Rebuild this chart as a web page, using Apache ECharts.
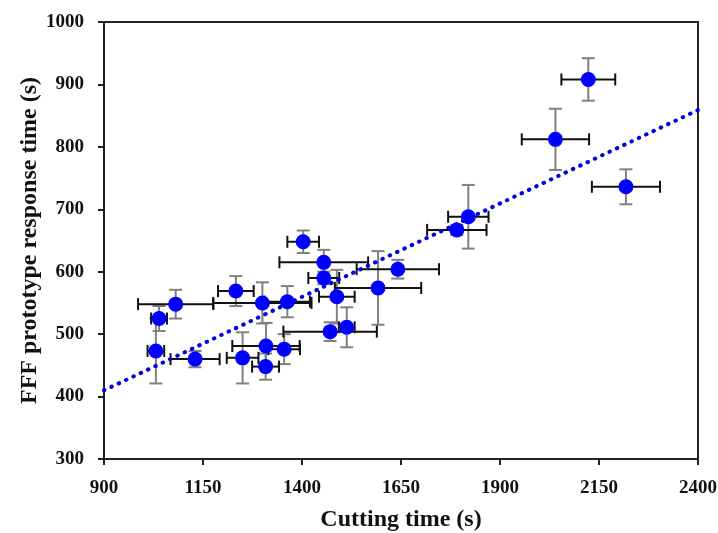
<!DOCTYPE html>
<html>
<head>
<meta charset="utf-8">
<script src="https://cdn.jsdelivr.net/npm/echarts@6/dist/echarts.min.js"></script>
<style>
  html,body{margin:0;padding:0;background:#fff;}
  #chart{width:718px;height:533px;}
</style>
</head>
<body>
<div id="chart"></div>
<script>
// data
var cuttingTime  = [2123, 2040, 2218, 1820, 1791, 1403, 1455, 1455, 1488, 1592, 1642, 1471, 1513, 1233, 1300, 1363, 1081, 1039, 1031, 1130, 1250, 1309, 1355, 1308];
var responseTime = [ 908,  812,  736,  688,  667,  648,  615,  590,  560,  574,  604,  504,  511,  569,  550,  552,  548,  525,  473,  460,  462,  481,  476,  448];
var cuttingErr   = [  68,   85,   86,   51,   75,   40,  112,   39,   45,  109,  104,  118,   20,   45,  124,   57,   95,   20,   21,   62,   40,   85,   40,   34];
var responseErr  = [  34,   49,   28,   51,    8,   18,   20,   10,   43,   59,   15,   15,   32,   24,   33,   25,   23,   20,   52,   13,   41,   37,   24,   21];
// linear trend line, ends read at both edges of the plot
var trendX = [900, 2400];
var trendY = [410, 859];

var xTicks = [900, 1150, 1400, 1650, 1900, 2150, 2400];
var yTicks = [300, 400, 500, 600, 700, 800, 900, 1000];

var FONT = 'Liberation Serif';
var myChart = echarts.init(document.getElementById('chart'));

var pts = [], barData = [];
for (var i = 0; i < cuttingTime.length; i++) {
    pts.push([cuttingTime[i], responseTime[i]]);
    barData.push([cuttingTime[i], responseTime[i], cuttingErr[i], responseErr[i]]);
}
var trend = [];
for (var i = 0; i < trendX.length; i++) trend.push([trendX[i], trendY[i]]);

function line(x1, y1, x2, y2, color, w) {
    return {type: 'line', shape: {x1: x1, y1: y1, x2: x2, y2: y2}, style: {stroke: color, lineWidth: w}};
}

// vertical error bars (grey)
function yBar(params, api) {
    var x = api.value(0), y = api.value(1), e = api.value(3);
    var lo = api.coord([x, y - e]), hi = api.coord([x, y + e]);
    var c = 6.5;
    return {type: 'group', children: [
        line(lo[0], lo[1], hi[0], hi[1], '#808080', 2),
        line(lo[0] - c, lo[1], lo[0] + c, lo[1], '#808080', 2),
        line(hi[0] - c, hi[1], hi[0] + c, hi[1], '#808080', 2)
    ]};
}
// horizontal error bars (black)
function xBar(params, api) {
    var x = api.value(0), y = api.value(1), e = api.value(2);
    var lo = api.coord([x - e, y]), hi = api.coord([x + e, y]);
    var c = 6;
    return {type: 'group', children: [
        line(lo[0], lo[1], hi[0], hi[1], '#111', 2),
        line(lo[0], lo[1] - c, lo[0], lo[1] + c, '#111', 2),
        line(hi[0], hi[1] - c, hi[0], hi[1] + c, '#111', 2)
    ]};
}

var option = {
    animation: false,
    backgroundColor: '#fff',
    grid: {left: 104, right: 20, top: 22, bottom: 74, outerBoundsMode: 'none',
           show: true, borderColor: '#222', borderWidth: 2},
    xAxis: {
        type: 'value', min: xTicks[0], max: xTicks[xTicks.length - 1], interval: 250,
        name: 'Cutting time (s)', nameLocation: 'middle', nameGap: 49, nameMoveOverlap: false,
        nameTextStyle: {fontFamily: FONT, fontWeight: 'bold', fontSize: 24, color: '#111'},
        axisLine: {lineStyle: {color: '#222', width: 2}},
        axisTick: {show: true, inside: false, length: 6, lineStyle: {color: '#222', width: 2}},
        axisLabel: {fontFamily: FONT, fontWeight: 'bold', fontSize: 19, color: '#111', margin: 20,
                    formatter: function (v) { return String(v); }},
        splitLine: {show: false}
    },
    yAxis: {
        type: 'value', min: yTicks[0], max: yTicks[yTicks.length - 1], interval: 100,
        name: 'FFF prototype response time (s)', nameLocation: 'middle', nameGap: 62, nameRotate: 90,
        nameMoveOverlap: false,
        nameTextStyle: {fontFamily: FONT, fontWeight: 'bold', fontSize: 24, color: '#111'},
        axisLine: {lineStyle: {color: '#222', width: 2}},
        axisTick: {show: true, inside: false, length: 6, lineStyle: {color: '#222', width: 2}},
        axisLabel: {fontFamily: FONT, fontWeight: 'bold', fontSize: 19, color: '#111', margin: 20,
                    formatter: function (v) { return String(v); }},
        splitLine: {show: false}
    },
    series: [
        {type: 'custom', renderItem: yBar, data: barData, encode: {x: 0, y: 1}, z: 2},
        {type: 'custom', renderItem: xBar, data: barData, encode: {x: 0, y: 1}, z: 3},
        {type: 'line', data: trend, showSymbol: false, z: 4,
         lineStyle: {color: '#0000e0', width: 4, type: [0.5, 7.6], cap: 'round'}},
        {type: 'scatter', data: pts, symbolSize: 15, z: 5,
         itemStyle: {color: '#0000ff', opacity: 1}}
    ]
};
myChart.setOption(option);
</script>
</body>
</html>
